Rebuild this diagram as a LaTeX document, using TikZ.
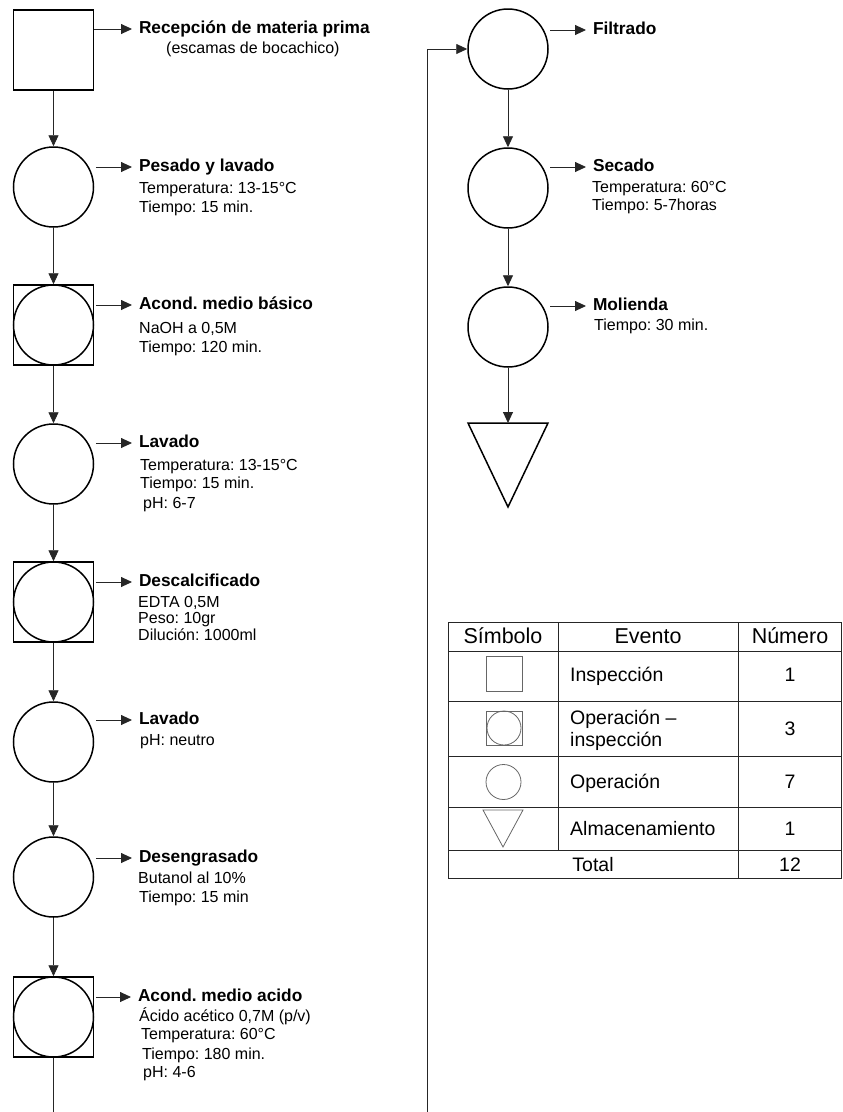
\documentclass[tikz,border=0pt]{standalone}
\usepackage{fontspec}
\setmainfont{Liberation Sans}
\usetikzlibrary{arrows.meta,calc}
\frenchspacing

\begin{document}
\begin{tikzpicture}[x=1pt,y=-1pt,
  flow/.style={draw=black!85, line width=0.9pt, -{Triangle[length=11pt,width=10pt]}},
  opbox/.style={draw, line width=1.5pt, minimum size=80pt, inner sep=0pt},
  opcirc/.style={circle, draw, line width=1.5pt, minimum size=80pt, inner sep=0pt},
  steptitle/.style={anchor=west, inner sep=0pt, outer xsep=7pt, text height=12pt, text depth=3.5pt,
    font=\fontsize{17.3}{20}\selectfont\bfseries},
  stepbody/.style={anchor=base west, inner sep=0pt, font=\fontsize{16}{19}\selectfont},
  tabhead/.style={anchor=base, inner sep=0pt, font=\fontsize{21.5}{25}\selectfont},
  tabtext/.style={anchor=base, inner sep=0pt, font=\fontsize{19.5}{23}\selectfont},
  tableft/.style={anchor=base west, inner sep=0pt, font=\fontsize{19.5}{23}\selectfont},
  tabrule/.style={draw=black!85, line width=1pt},
  symb/.style={draw=black!60, line width=0.8pt, inner sep=0pt},
]
\useasboundingbox (0,0) rectangle (843,1112);
\clip (0,0) rectangle (843,1112);

% ---------- left column: process symbols ----------
\node[opbox]  (recep)   at (53.5,50)   {};
\node[opcirc] (pesado)  at (53.5,187)  {};
\node[opbox]  (basicoB) at (53.5,325)  {};
\node[opcirc] (basico)  at (basicoB.center) {};
\node[opcirc] (lavA)    at (53.5,464)  {};
\node[opbox]  (descalB) at (53.5,602)  {};
\node[opcirc] (descal)  at (descalB.center) {};
\node[opcirc] (lavB)    at (53.5,742)  {};
\node[opcirc] (deseng)  at (53.5,877)  {};
\node[opbox]  (acidoB)  at (53.5,1017) {};
\node[opcirc] (acido)   at (acidoB.center) {};

% ---------- right column ----------
\node[opcirc] (filtr)  at (508,49)  {};
\node[opcirc] (secado) at (508,188) {};
\node[opcirc] (molien) at (508,327) {};
\coordinate (store) at (508,423);
\draw[line width=1.5pt, line join=miter] (store) -- ++(40,0) -- ++(-40,84) -- ++(-40,-84) -- cycle;

% ---------- main flow ----------
\draw[flow] (recep.south)   -- (pesado.north);
\draw[flow] (pesado.south)  -- (basicoB.north);
\draw[flow] (basicoB.south) -- (lavA.north);
\draw[flow] (lavA.south)    -- (descalB.north);
\draw[flow] (descalB.south) -- (lavB.north);
\draw[flow] (lavB.south)    -- (deseng.north);
\draw[flow] (deseng.south)  -- (acidoB.north);
\coordinate (loopA) at (53.5,1135);
\coordinate (loopB) at (427,1135);
\draw[flow] (acidoB.south) -- (loopA) -- (loopB) |- (filtr.west);
\draw[flow] (filtr.south)  -- (secado.north);
\draw[flow] (secado.south) -- (molien.north);
\draw[flow] (molien.south) -- (store);

% ---------- step titles ----------
\node[steptitle] (tRecep)  at (132,29)  {Recepción de materia prima};
\node[steptitle] (tPesado) at (132,167) {Pesado y lavado};
\node[steptitle] (tBasico) at (132,305) {Acond. medio básico};
\node[steptitle] (tLavA)   at (132,443) {Lavado};
\node[steptitle] (tDescal) at (132,582) {Descalcificado};
\node[steptitle] (tLavB)   at (132,720) {Lavado};
\node[steptitle] (tDeseng) at (132,858) {Desengrasado};
\node[steptitle] (tAcido)  at (131,997) {Acond. medio acido};
\node[steptitle] (tFiltr)  at (586,30)  {Filtrado};
\node[steptitle] (tSecado) at (586,167) {Secado};
\node[steptitle] (tMolien) at (586,306) {Molienda};

% ---------- arrows from symbols to titles ----------
\draw[flow] (recep.east  |- tRecep.west)  -- (tRecep.west);
\draw[flow] (pesado.east |- tPesado.west) ++(1.5,0) -- (tPesado.west);
\draw[flow] (basicoB.east |- tBasico.west) ++(1.5,0) -- (tBasico.west);
\draw[flow] (lavA.east   |- tLavA.west)   ++(1.5,0) -- (tLavA.west);
\draw[flow] (descalB.east |- tDescal.west) ++(1.5,0) -- (tDescal.west);
\draw[flow] (lavB.east   |- tLavB.west)   ++(1.5,0) -- (tLavB.west);
\draw[flow] (deseng.east |- tDeseng.west) ++(1.5,0) -- (tDeseng.west);
\draw[flow] (acidoB.east |- tAcido.west)  ++(1.5,0) -- (tAcido.west);
\draw[flow] (filtr.east  |- tFiltr.west)  ++(1.5,0) -- (tFiltr.west);
\draw[flow] (secado.east |- tSecado.west) ++(1.5,0) -- (tSecado.west);
\draw[flow] (molien.east |- tMolien.west) ++(1.5,0) -- (tMolien.west);

% ---------- step details ----------
\node[stepbody] (dRecep1)  at (166,53)   {(escamas de bocachico)};
\node[stepbody] (dPesado1) at (139,193)  {Temperatura: 13-15°C};
\node[stepbody] (dPesado2) at (139,212)  {Tiempo: 15 min.};
\node[stepbody] (dBasico1) at (139,333)  {NaOH a 0,5M};
\node[stepbody] (dBasico2) at (139,352)  {Tiempo: 120 min.};
\node[stepbody] (dLavA1)   at (140,470)  {Temperatura: 13-15°C};
\node[stepbody] (dLavA2)   at (140,488)  {Tiempo: 15 min.};
\node[stepbody] (dLavA3)   at (143,508)  {pH: 6-7};
\node[stepbody] (dDescal1) at (138,607)  {EDTA 0,5M};
\node[stepbody] (dDescal2) at (138,623)  {Peso: 10gr};
\node[stepbody] (dDescal3) at (138,640)  {Dilución: 1000ml};
\node[stepbody] (dLavB1)   at (140,745)  {pH: neutro};
\node[stepbody] (dDeseng1) at (138,883)  {Butanol al 10\%};
\node[stepbody] (dDeseng2) at (139,902)  {Tiempo: 15 min};
\node[stepbody] (dAcido1)  at (139,1021) {Ácido acético 0,7M (p/v)};
\node[stepbody] (dAcido2)  at (141,1039) {Temperatura: 60°C};
\node[stepbody] (dAcido3)  at (142,1059) {Tiempo: 180 min.};
\node[stepbody] (dAcido4)  at (143,1077) {pH: 4-6};
\node[stepbody] (dSecado1) at (592,192)  {Temperatura: 60°C};
\node[stepbody] (dSecado2) at (592,210)  {Tiempo: 5-7horas};
\node[stepbody] (dMolien1) at (594,330)  {Tiempo: 30 min.};

% ---------- summary table ----------
\draw[tabrule] (448,622) rectangle (841,878);
\draw[tabrule] (448,651) -- (841,651);
\draw[tabrule] (448,701) -- (841,701);
\draw[tabrule] (448,756) -- (841,756);
\draw[tabrule] (448,807) -- (841,807);
\draw[tabrule] (448,850) -- (841,850);
\draw[tabrule] (558,622) -- (558,850);
\draw[tabrule] (738,622) -- (738,878);

\node[tabhead] (hSim) at (503,643) {Símbolo};
\node[tabhead] (hEve) at (648,643) {Evento};
\node[tabhead] (hNum) at (790,643) {Número};

\node[symb, minimum width=36pt, minimum height=35pt] (sInsp) at (504,674) {};
\node[symb, minimum width=36pt, minimum height=34pt] (sOpInB) at (504,728) {};
\node[symb, circle, minimum size=34pt] (sOpIn) at (sOpInB.center) {};
\node[symb, circle, minimum size=35pt] (sOp) at (503.5,782) {};
\coordinate (sAlm) at (503,810);
\draw[draw=black!60, line width=0.8pt] (sAlm) -- ++(20,0) -- ++(-20,37) -- ++(-20,-37) -- cycle;

\node[tableft] (eInsp)  at (570,681) {Inspección};
\node[tableft] (eOpIn1) at (570,724) {Operación –};
\node[tableft] (eOpIn2) at (570,746) {inspección};
\node[tableft] (eOp)    at (570,788) {Operación};
\node[tableft] (eAlm)   at (570,835) {Almacenamiento};
\node[tabtext] (eTot)   at (593,871) {Total};

\node[tabtext] (nInsp) at (790,681) {1};
\node[tabtext] (nOpIn) at (790,735) {3};
\node[tabtext] (nOp)   at (790,788) {7};
\node[tabtext] (nAlm)  at (790,835) {1};
\node[tabtext] (nTot)  at (790,871) {12};
\end{tikzpicture}
\end{document}
